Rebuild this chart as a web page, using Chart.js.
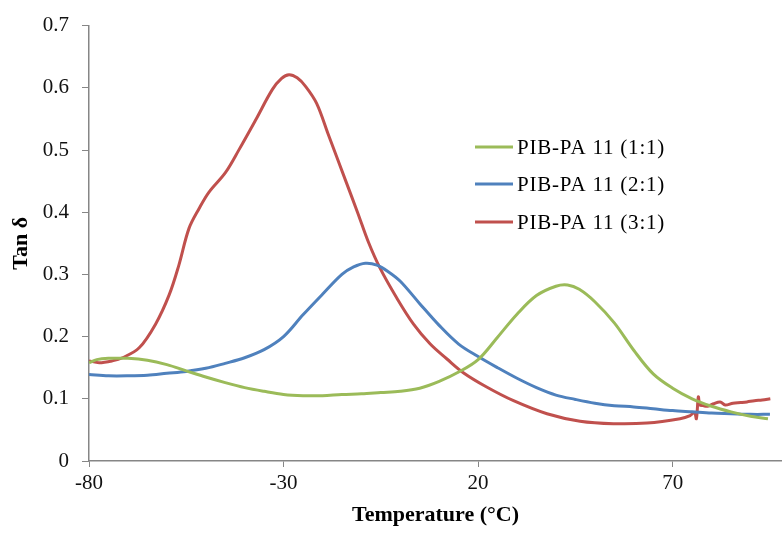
<!DOCTYPE html>
<html>
<head>
<meta charset="utf-8">
<script src="https://cdn.jsdelivr.net/npm/chart.js@4.4.1/dist/chart.umd.min.js"></script>
<style>
html,body{margin:0;padding:0;background:#fff;}
#wrap{width:782px;height:533px;}
</style>
</head>
<body>
<div id="wrap"><canvas id="c" width="782" height="533"></canvas></div>
<script>
// ---- data ----
const seriesNames = ["PIB-PA 11 (1:1)", "PIB-PA 11 (2:1)", "PIB-PA 11 (3:1)"];
const seriesColors = ["#9BBB59", "#4F81BD", "#C0504D"];

const xTickValues = [-80, -30, 20, 70];
const yTickValues = [0, 0.1, 0.2, 0.3, 0.4, 0.5, 0.6, 0.7];

const tempGreen = [-80, -78, -75, -70, -65, -60, -55, -50, -45, -40, -35, -30, -25, -20, -15, -10, -5, 0, 5, 10, 15, 20, 25, 30, 35, 40, 43, 46, 50, 55, 60, 65, 70, 75, 80, 85, 90, 94.5];
const tanGreen = [0.158, 0.163, 0.165, 0.165, 0.162, 0.155, 0.145, 0.135, 0.126, 0.118, 0.112, 0.107, 0.105, 0.105, 0.107, 0.108, 0.110, 0.112, 0.117, 0.128, 0.143, 0.163, 0.199, 0.236, 0.266, 0.281, 0.283, 0.276, 0.256, 0.222, 0.178, 0.140, 0.117, 0.100, 0.088, 0.079, 0.072, 0.068];

const tempBlue = [-80, -75, -70, -65, -60, -55, -50, -45, -40, -35, -30, -25, -20, -15, -12, -9, -6, -3, 0, 5, 10, 15, 20, 25, 30, 35, 40, 45, 50, 55, 60, 65, 70, 75, 80, 85, 90, 95];
const tanBlue = [0.139, 0.137, 0.137, 0.138, 0.141, 0.144, 0.149, 0.157, 0.166, 0.179, 0.200, 0.235, 0.268, 0.300, 0.312, 0.318, 0.315, 0.304, 0.289, 0.253, 0.218, 0.188, 0.168, 0.150, 0.133, 0.118, 0.106, 0.099, 0.093, 0.089, 0.087, 0.084, 0.081, 0.079, 0.077, 0.076, 0.075, 0.075];

const tempRed = [-80, -77.4, -74, -71.4, -67.1, -62.9, -59.4, -56.9, -54.3, -51.7, -49.2, -44.9, -41.4, -37.1, -32.9, -30.5, -28.6, -26.5, -24.3, -21.5, -18.5, -14, -11, -8.2, -5.2, -0.9, 3.4, 7.7, 12, 16.2, 22.2, 29.1, 37.7, 46.2, 54.8, 63.4, 71.9, 74.5, 75.6, 76.1, 76.6, 77.0, 77.8, 79, 80.5, 82.2, 83.5, 85.5, 87.5, 89.1, 91, 93, 95.1];
const tanRed = [0.161, 0.158, 0.161, 0.166, 0.182, 0.220, 0.267, 0.315, 0.374, 0.406, 0.432, 0.464, 0.501, 0.549, 0.597, 0.615, 0.621, 0.616, 0.602, 0.575, 0.525, 0.450, 0.400, 0.352, 0.310, 0.262, 0.220, 0.188, 0.164, 0.142, 0.119, 0.097, 0.076, 0.064, 0.060, 0.061, 0.068, 0.073, 0.078, 0.068, 0.103, 0.090, 0.089, 0.088, 0.092, 0.095, 0.090, 0.093, 0.094, 0.095, 0.097, 0.098, 0.100];

const xTitle = "Temperature (\u00B0C)";
const yTitle = "Tan \u03B4";

// ---- chart ----
function zip(xs, ys){ return xs.map((x,i)=>({x:x, y:ys[i]})); }
const allX = [tempGreen, tempBlue, tempRed];
const allY = [tanGreen, tanBlue, tanRed];

const FONT = "'Liberation Serif','Times New Roman',serif";
const axisGray = "#868686";

const legendPlugin = {
  id: 'manualLegend',
  afterDraw(chart){
    const ctx = chart.ctx;
    ctx.save();
    const rows = [147, 184, 222];
    ctx.font = "21px " + FONT;
    if ('letterSpacing' in ctx) ctx.letterSpacing = "0.8px";
    ctx.textBaseline = "middle";
    ctx.textAlign = "left";
    seriesNames.forEach((n,i)=>{
      ctx.strokeStyle = seriesColors[i];
      ctx.lineWidth = 3;
      ctx.beginPath();
      ctx.moveTo(475, rows[i]);
      ctx.lineTo(513, rows[i]);
      ctx.stroke();
      ctx.fillStyle = "#000";
      ctx.fillText(n, 517, rows[i] + 1);
    });
    ctx.restore();
  }
};

new Chart(document.getElementById('c'), {
  type: 'line',
  data: {
    datasets: seriesNames.map((n,i)=>({
      label: n,
      data: zip(allX[i], allY[i]),
      borderColor: seriesColors[i],
      backgroundColor: seriesColors[i],
      borderWidth: 3,
      pointRadius: 0,
      tension: 0.35,
      fill: false
    }))
  },
  options: {
    responsive: false,
    animation: false,
    layout: { padding: { top: 22, right: 0, left: 0, bottom: 0 } },
    plugins: { legend: { display: false }, tooltip: { enabled: false } },
    scales: {
      x: {
        type: 'linear',
        min: -80,
        max: 98.1,
        afterBuildTicks: (s)=>{ s.ticks = xTickValues.map(v=>({value:v})); },
        afterFit: (s)=>{ s.height = 72; },
        grid: { display: true, drawOnChartArea: false, drawTicks: true, tickLength: 6, color: axisGray },
        border: { display: true, color: axisGray, width: 1.5 },
        ticks: { font: { family: FONT, size: 21 }, color: "#111", padding: 4, maxRotation: 0, callback: (v)=>String(v) },
        title: { display: true, text: xTitle, font: { family: FONT, size: 22, weight: 'bold' }, color: "#000", padding: { top: 0, bottom: 4 } }
      },
      y: {
        type: 'linear',
        min: 0,
        max: 0.7,
        afterBuildTicks: (s)=>{ s.ticks = yTickValues.map(v=>({value:v})); },
        afterFit: (s)=>{ s.width = 89; },
        grid: { display: true, drawOnChartArea: false, drawTicks: true, tickLength: 7, color: axisGray },
        border: { display: true, color: axisGray, width: 1.5 },
        ticks: { font: { family: FONT, size: 21 }, color: "#111", padding: 13, callback: (v)=> v === 0 ? "0" : v.toFixed(1) },
        title: { display: true, text: yTitle, font: { family: FONT, size: 22, weight: 'bold' }, color: "#000", padding: { top: 8, bottom: 0 } }
      }
    }
  },
  plugins: [legendPlugin]
});
</script>
</body>
</html>
